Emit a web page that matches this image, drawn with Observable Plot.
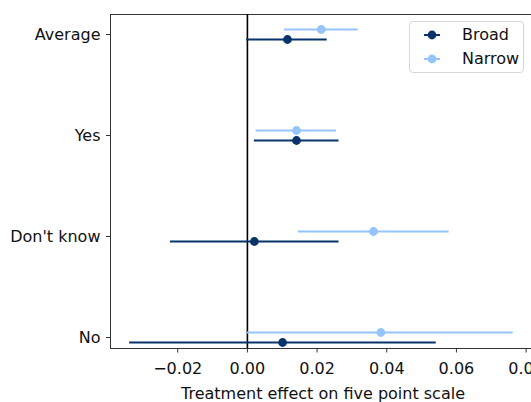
<!DOCTYPE html>
<html>
<head>
<meta charset="utf-8">
<script src="https://cdn.jsdelivr.net/npm/d3@7"></script>
<script src="https://cdn.jsdelivr.net/npm/@observablehq/plot@0.6"></script>
<style>
  html, body { margin: 0; padding: 0; background: #fff; overflow: hidden; }
  #wrap { position: relative; width: 531px; height: 402px; overflow: hidden; font-family: "DejaVu Sans", sans-serif; }
  #wrap svg { max-width: none !important; }
  .legend { position: absolute; left: 409px; top: 21px; width: 115px; height: 52px;
    border: 1px solid #d6d6d6; border-radius: 4px; background: rgba(255,255,255,0.8); box-sizing: border-box; }
  .entry { position: absolute; left: 0; height: 20px; font-size: 16px; color: #111; }
  .entry svg { position: absolute; left: 13px; top: 0; }
  .entry span { position: absolute; left: 52px; top: 0; line-height: 20px; white-space: nowrap; }
</style>
</head>
<body>
<div id="wrap"></div>
<script>
const categories = ["Average", "Yes", "Don't know", "No"];
const broadEst  = [0.0115, 0.0141, 0.0020, 0.0101];
const broadLo   = [-0.0002, 0.0020, -0.0221, -0.0338];
const broadHi   = [0.0229, 0.0263, 0.0263, 0.0542];
const narrowEst = [0.0212, 0.0141, 0.0362, 0.0383];
const narrowLo  = [0.0107, 0.0025, 0.0146, 0.0000];
const narrowHi  = [0.0318, 0.0256, 0.0579, 0.0763];
const xTicks = [-0.02, 0, 0.02, 0.04, 0.06, 0.08];
const seriesNames = ["Broad", "Narrow"];
const colors = {Broad: "#08336b", Narrow: "#94c4f9"};

const broad = categories.map((c, i) => ({cat: c, est: broadEst[i], lo: broadLo[i], hi: broadHi[i]}));
const narrow = categories.map((c, i) => ({cat: c, est: narrowEst[i], lo: narrowLo[i], hi: narrowHi[i]}));

const chart = Plot.plot({
  width: 545,
  height: 402,
  marginLeft: 110,
  marginRight: 10,
  marginTop: 14,
  marginBottom: 54,
  style: {fontFamily: "DejaVu Sans, sans-serif", fontSize: "16px", color: "#111", background: "#fff"},
  x: {domain: [-0.0393, 0.0827]},
  y: {type: "point", domain: categories, range: [34.4, 337.4], padding: 0},
  marks: [
    Plot.frame({stroke: "#333", strokeWidth: 1}),
    Plot.ruleX([0], {stroke: "#000", strokeWidth: 1.6}),
    Plot.ruleY(narrow, {y: "cat", x1: "lo", x2: "hi", dy: -5, stroke: colors.Narrow, strokeWidth: 2}),
    Plot.ruleY(broad, {y: "cat", x1: "lo", x2: "hi", dy: 5, stroke: colors.Broad, strokeWidth: 2}),
    Plot.dot(narrow, {y: "cat", x: "est", dy: -5, r: 4.4, fill: colors.Narrow, stroke: "none"}),
    Plot.dot(broad, {y: "cat", x: "est", dy: 5, r: 4.4, fill: colors.Broad, stroke: "none"}),
    Plot.axisX({ticks: xTicks, tickFormat: d3.format(".2f"), tickSize: 4.5, tickPadding: 10, stroke: "#333", label: null, fontSize: 16}),
    Plot.axisY({tickSize: 4, tickPadding: 6, stroke: "#333", label: null, fontSize: 16}),
    Plot.text(["Treatment effect on five point scale"], {frameAnchor: "bottom", dy: 45, lineAnchor: "middle", fontSize: 16, fill: "#111"})
  ]
});
const wrap = document.getElementById("wrap");
wrap.appendChild(chart);

const legend = document.createElement("div");
legend.className = "legend";
seriesNames.forEach((name, i) => {
  const e = document.createElement("div");
  e.className = "entry";
  e.style.top = (3 + i * 24) + "px";
  e.style.width = "112px";
  const col = colors[name];
  e.innerHTML = `<svg width="20" height="20"><line x1="1" x2="17" y1="10" y2="10" stroke="${col}" stroke-width="2"/><circle cx="9" cy="10" r="4.4" fill="${col}"/></svg><span>${name}</span>`;
  legend.appendChild(e);
});
wrap.appendChild(legend);
</script>
</body>
</html>
